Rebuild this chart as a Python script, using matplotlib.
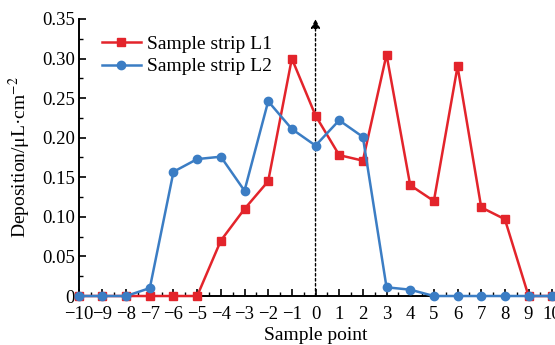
import matplotlib
matplotlib.use("Agg")
import matplotlib.pyplot as plt
from matplotlib.ticker import MultipleLocator, FuncFormatter

x = list(range(-10, 11))
l1 = [0, 0, 0, 0, 0, 0, 0.07, 0.11, 0.145, 0.300, 0.228, 0.178, 0.171, 0.305, 0.140, 0.120, 0.290, 0.112, 0.097, 0, 0]
l2 = [0, 0, 0, 0.010, 0.157, 0.173, 0.176, 0.133, 0.246, 0.211, 0.190, 0.222, 0.201, 0.011, 0.008, 0, 0, 0, 0, 0, 0]
series_names = ["Sample strip L1", "Sample strip L2"]

plt.rcParams['font.family'] = ['Liberation Serif', 'DejaVu Serif']
plt.rcParams['mathtext.fontset'] = 'stix'

fig = plt.figure(figsize=(5.55, 3.45), dpi=100)
ax = fig.add_axes([0.142, 0.142, 0.853, 0.803])

red = '#e3242b'
blue = '#3b7dc4'
FS = 14
TFS = 13.5
ax.plot(x, l1, color=red, marker='s', markersize=6, lw=1.8, label=series_names[0], zorder=3, clip_on=False)
ax.plot(x, l2, color=blue, marker='o', markersize=6, lw=1.8, label=series_names[1], zorder=4, clip_on=False)

ax.annotate('', xy=(0, 0.35), xytext=(0, 0),
            arrowprops=dict(arrowstyle='-|>', color='black', lw=1.0, linestyle=(0, (1.8, 1.8)),
                            mutation_scale=14, shrinkA=0, shrinkB=0), zorder=2)

ax.set_xlim(-10, 10)
ax.set_ylim(0, 0.35)
ax.xaxis.set_major_locator(MultipleLocator(1))
ax.xaxis.set_minor_locator(MultipleLocator(0.5))
ax.yaxis.set_major_locator(MultipleLocator(0.05))
ax.yaxis.set_minor_locator(MultipleLocator(0.025))
ax.xaxis.set_major_formatter(FuncFormatter(lambda v, p: f"{int(round(v))}".replace('-', '\u2212')))
ax.yaxis.set_major_formatter(FuncFormatter(lambda v, p: '0' if abs(v) < 1e-9 else f"{v:.2f}"))
ax.tick_params(which='major', direction='in', length=5, width=1.2, labelsize=TFS)
ax.tick_params(axis='x', which='major', pad=7)
ax.tick_params(axis='y', which='major', pad=3)
ax.tick_params(which='minor', direction='in', length=3, width=1.0)
for s in ['top', 'right']:
    ax.spines[s].set_visible(False)
for s in ['left', 'bottom']:
    ax.spines[s].set_linewidth(1.4)

ax.set_xlabel('Sample point', fontsize=FS, labelpad=3)
ax.set_ylabel('Deposition/μL·cm$^{-2}$', fontsize=FS, labelpad=6)

leg = ax.legend(loc='upper left', bbox_to_anchor=(0.02, 0.99), frameon=False, fontsize=FS,
                handlelength=2.0, handletextpad=0.3, borderpad=0.2, labelspacing=0.25)

fig.savefig('out.png', dpi=100)
